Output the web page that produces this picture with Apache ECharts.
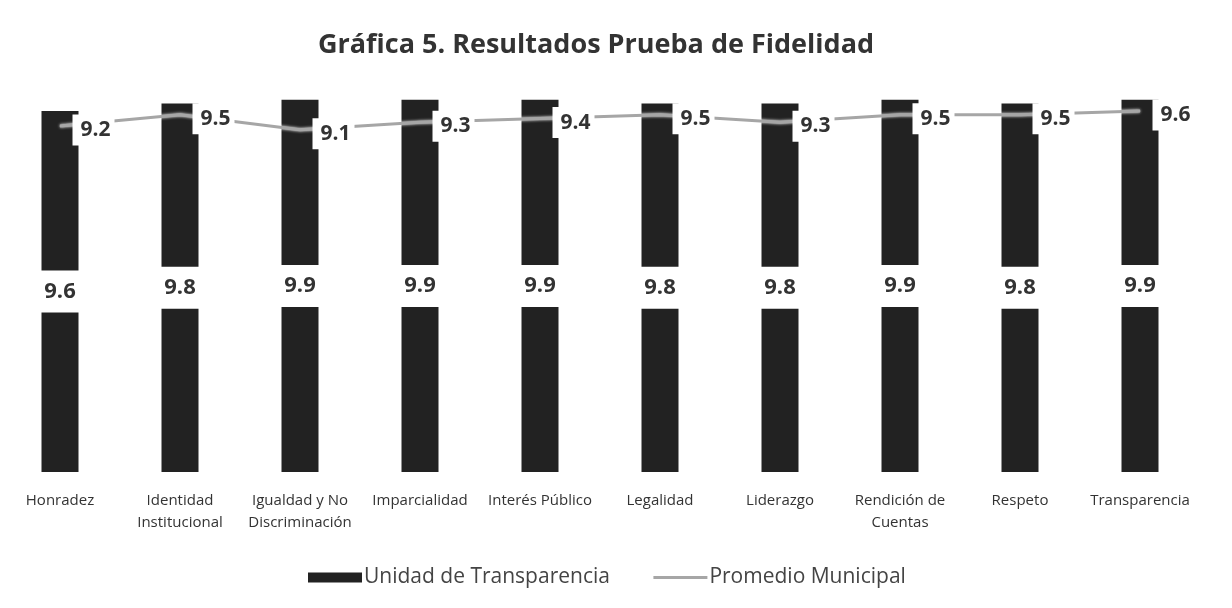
<!DOCTYPE html>
<html><head><meta charset="utf-8">
<script src="https://cdn.jsdelivr.net/npm/echarts@6/dist/echarts.min.js"></script>
<style>html,body{margin:0;padding:0;background:#fff}#c{width:1232px;height:608px}</style>
</head><body><div id="c"></div>
<script>
const categories = ['Honradez','Identidad\nInstitucional','Igualdad y No\nDiscriminación','Imparcialidad','Interés Público','Legalidad','Liderazgo','Rendición de\nCuentas','Respeto','Transparencia'];
const unidadTransparencia = [9.6, 9.8, 9.9, 9.9, 9.9, 9.8, 9.8, 9.9, 9.8, 9.9];
const promedioMunicipal = [9.2, 9.5, 9.1, 9.3, 9.4, 9.5, 9.3, 9.5, 9.5, 9.6];

const chart = echarts.init(document.getElementById('c'), null, {renderer:'canvas'});
chart.setOption({
  backgroundColor:'#fff',
  animation:false,
  title:{text:'Gráfica 5. Resultados Prueba de Fidelidad', left:313, top:27,
    textStyle:{fontFamily:'Open Sans', fontWeight:'bold', fontSize:27, color:'#333'}},
  legend:{top:562, left:303, itemGap:42, itemWidth:54, itemHeight:10,
    textStyle:{fontFamily:'Open Sans', fontSize:21, color:'#444', padding:[0,0,0,-3]},
    data:[{name:'Unidad de Transparencia', icon:'rect'},
          {name:'Promedio Municipal', itemStyle:{opacity:0}, lineStyle:{color:'#a6a6a6', width:3}}]},
  grid:{left:-2, right:32, top:96, bottom:136},
  xAxis:{type:'category', data:categories,
    axisLine:{show:false}, axisTick:{show:false},
    axisLabel:{interval:0, margin:18, fontFamily:'Open Sans', fontSize:15, color:'#333', lineHeight:22}},
  yAxis:{type:'value', min:0, max:10, show:false, splitLine:{show:false}},
  series:[
    {name:'Unidad de Transparencia', type:'bar', data:unidadTransparencia, barWidth:37,
      itemStyle:{color:'#222'},
      label:{show:true, position:'inside', backgroundColor:'#fff', padding:[10,5],
        fontFamily:'Open Sans', fontWeight:'bold', fontSize:22, color:'#333'}},
    {name:'Promedio Municipal', type:'line', data:promedioMunicipal,
      symbol:'circle', symbolSize:1, itemStyle:{color:'#a6a6a6'},
      lineStyle:{color:'#a6a6a6', width:3, shadowColor:'#fff', shadowBlur:3},
      label:{show:true, position:'right', distance:12, offset:[0,4], backgroundColor:'#fff', padding:[5,4,5,8],
        fontFamily:'Open Sans', fontWeight:'bold', fontSize:21, color:'#333'}}
  ]
});
</script></body></html>
